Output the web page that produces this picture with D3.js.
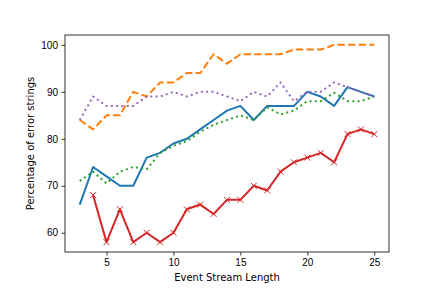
<!DOCTYPE html>
<html>
<head>
<meta charset="utf-8">
<script src="https://cdn.jsdelivr.net/npm/d3@7"></script>
<style>
  body { margin: 0; background: #fff; }
  svg { display: block; font-family: "DejaVu Sans", sans-serif; }
  .tick text { font-size: 10px; fill: #000; }
  .axis-label { font-size: 10px; fill: #000; }
</style>
</head>
<body>
<svg width="432" height="288"></svg>
<script>
var svg = d3.select("svg");
var width = 432;
var height = 288;
var margin = { top: 35, right: 43, bottom: 36, left: 65 };
var innerWidth = width - margin.left - margin.right;
var innerHeight = height - margin.top - margin.bottom;

// x values (event stream length)
var lengths = [3,4,5,6,7,8,9,10,11,12,13,14,15,16,17,18,19,20,21,22,23,24,25];

// series
var blueVals   = [66,74,72,70,70,76,77,79,80,82,84,86,87,84,87,87,87,90,89,87,91,90,89];
var orangeVals = [84,82,85,85,90,89,92,92,94,94,98,96,98,98,98,98,99,99,99,100,100,100,100];
var greenVals  = [71,73,70.5,73,74,73.5,77,78.5,79.5,81.5,83,84,85,84,86.7,85.2,86,88,88,89.8,88,88,89];
var purpleVals = [84,89,87,87,87,89,89,90,89,90,90,89,88,90,89,92,88,90,90,92,91,90,89];
var redLengths = [4,5,6,7,8,9,10,11,12,13,14,15,16,17,18,19,20,21,22,23,24,25];
var redVals    = [68,58,65,58,60,58,60,65,66,64,67,67,70,69,73,75,76,77,75,81,82,81];

var xTicks = [5, 10, 15, 20, 25];
var yTicks = [60, 70, 80, 90, 100];

var group = svg.append("g")
  .attr("transform", "translate(" + margin.left + "," + margin.top + ")");

var x = d3.scaleLinear()
  .domain([1.9, 26.1])
  .range([0, innerWidth]);

var y = d3.scaleLinear()
  .domain([55.9, 102.1])
  .range([innerHeight, 0]);

// axes
var xAxis = group.append("g")
  .attr("transform", `translate(0, ${innerHeight})`)
  .call(d3.axisBottom(x).tickValues(xTicks).tickSize(3.5).tickPadding(3.5));

var yAxis = group.append("g")
  .call(d3.axisLeft(y).tickValues(yTicks).tickSize(3.5).tickPadding(3.5));

[xAxis, yAxis].forEach(a => {
  a.select(".domain").remove();
  a.selectAll(".tick line").attr("stroke", "#000").attr("stroke-width", 0.8);
});

// frame
group.append("rect")
  .attr("x", 0).attr("y", 0)
  .attr("width", innerWidth).attr("height", innerHeight)
  .attr("fill", "none")
  .attr("stroke", "#000")
  .attr("stroke-width", 0.8);

function drawLine(xs, ys, color, dash) {
  var pts = xs.map((d, i) => [d, ys[i]]);
  var line = d3.line().x(d => x(d[0])).y(d => y(d[1]));
  group.append("path")
    .datum(pts)
    .attr("d", line)
    .attr("fill", "none")
    .attr("stroke", color)
    .attr("stroke-width", 2)
    .attr("stroke-linejoin", "round")
    .attr("stroke-dasharray", dash || null);
  return pts;
}

drawLine(lengths, blueVals, "#1f77b4");
drawLine(lengths, orangeVals, "#ff7f0e", "7.4,3.2");
drawLine(lengths, greenVals, "#2ca02c", "2,3.3");
var redPts = drawLine(redLengths, redVals, "#d62728");
drawLine(lengths, purpleVals, "#9467bd", "2,3.3");

// x markers on red series
group.selectAll(".xmark")
  .data(redPts)
  .enter()
  .append("path")
  .attr("class", "xmark")
  .attr("d", d => {
    var cx = x(d[0]), cy = y(d[1]), r = 3;
    return `M${cx-r},${cy-r}L${cx+r},${cy+r}M${cx-r},${cy+r}L${cx+r},${cy-r}`;
  })
  .attr("stroke", "#d62728")
  .attr("stroke-width", 1);

// axis labels
group.append("text")
  .attr("class", "axis-label")
  .attr("x", innerWidth / 2)
  .attr("y", innerHeight + 29)
  .attr("text-anchor", "middle")
  .text("Event Stream Length");

group.append("text")
  .attr("class", "axis-label")
  .attr("transform", "rotate(-90)")
  .attr("x", -innerHeight / 2)
  .attr("y", -31)
  .attr("text-anchor", "middle")
  .text("Percentage of error strings");
</script>
</body>
</html>
